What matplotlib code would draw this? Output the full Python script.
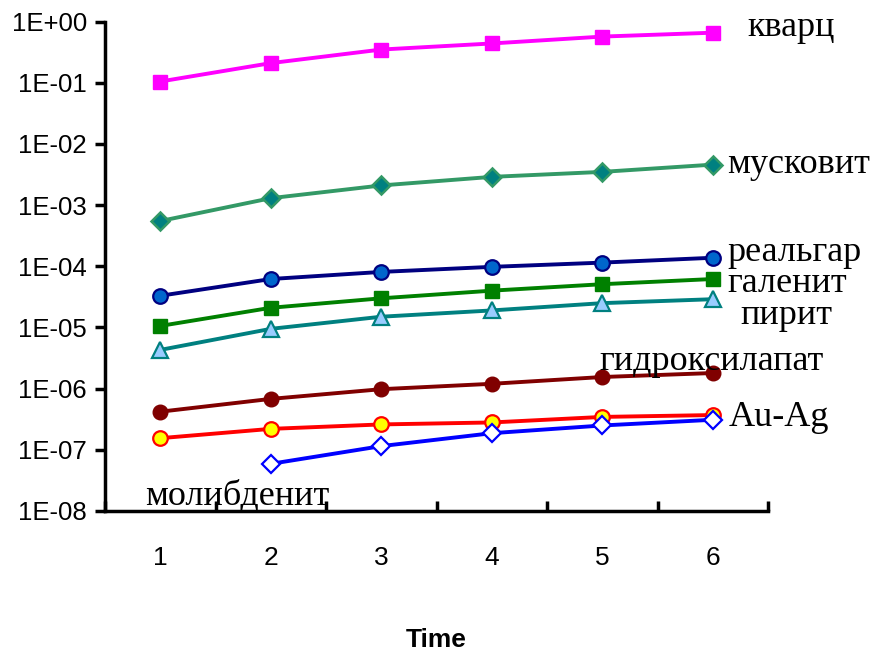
import numpy as np
import matplotlib
matplotlib.use('Agg')
import matplotlib.pyplot as plt
from matplotlib.ticker import FixedLocator, FixedFormatter

# значения по времени (1..6)
time = [1, 2, 3, 4, 5, 6]
kvarc = [0.105, 0.21, 0.35, 0.44, 0.57, 0.66]
muskovit = [5.5e-4, 1.3e-3, 2.1e-3, 2.9e-3, 3.5e-3, 4.6e-3]
realgar = [3.3e-5, 6.2e-5, 8.1e-5, 9.8e-5, 1.15e-4, 1.38e-4]
galenit = [1.06e-5, 2.1e-5, 3.0e-5, 4.0e-5, 5.1e-5, 6.2e-5]
pirit = [4.3e-6, 9.5e-6, 1.5e-5, 1.9e-5, 2.5e-5, 2.9e-5]
gidroksilapat = [4.2e-7, 6.8e-7, 9.8e-7, 1.2e-6, 1.55e-6, 1.8e-6]
au_ag = [1.55e-7, 2.2e-7, 2.6e-7, 2.8e-7, 3.45e-7, 3.7e-7]
molibdenit = [np.nan, 5.9e-8, 1.15e-7, 1.87e-7, 2.5e-7, 3.1e-7]

y_ticks = [1e-8, 1e-7, 1e-6, 1e-5, 1e-4, 1e-3, 1e-2, 1e-1, 1e0]
y_tick_labels = ['1E-08', '1E-07', '1E-06', '1E-05', '1E-04', '1E-03', '1E-02', '1E-01', '1E+00']

fig = plt.figure(figsize=(8.79, 6.52), dpi=100)
ax = fig.add_axes([0.1195, 0.2163, 0.7545, 0.7505])

lw = 2.8
ms = 10.5
ax.plot(time, kvarc, color='#FF00FF', lw=lw, marker='s', ms=ms, mfc='#FF00FF', mec='#FF00FF')
ax.plot(time, muskovit, color='#339966', lw=lw, marker='D', ms=ms - 1.5, mfc='#008080', mec='#339966', mew=1.8)
ax.plot(time, realgar, color='#000080', lw=lw, marker='o', ms=ms, mfc='#0066CC', mec='#000080', mew=1.6)
ax.plot(time, galenit, color='#008000', lw=lw, marker='s', ms=ms, mfc='#008000', mec='#008000')
ax.plot(time, pirit, color='#008080', lw=lw, marker='^', ms=ms + 1, mfc='#99CCFF', mec='#008080', mew=1.6)
ax.plot(time, gidroksilapat, color='#800000', lw=lw, marker='o', ms=ms, mfc='#800000', mec='#800000')
ax.plot(time, au_ag, color='#FF0000', lw=lw, marker='o', ms=ms, mfc='#FFFF00', mec='#FF0000', mew=1.6)
ax.plot(time, molibdenit, color='#0000FF', lw=lw, marker='D', ms=ms - 1.5, mfc='white', mec='#0000FF', mew=1.6)

ax.set_yscale('log')
ax.set_ylim(1e-8, 1)
ax.set_xlim(0.5, 6.5)

ax.yaxis.set_major_locator(FixedLocator(y_ticks))
ax.yaxis.set_major_formatter(FixedFormatter(y_tick_labels))
ax.yaxis.set_minor_locator(FixedLocator([]))
ax.tick_params(axis='y', which='major', direction='out', length=7, width=2.5,
               labelsize=18.5, pad=6)
for lab in ax.get_yticklabels():
    lab.set_family('Liberation Sans')

# деления на границах категорий, подписи в центрах
ax.xaxis.set_major_locator(FixedLocator(np.arange(0.5, 7, 1.0)))
ax.xaxis.set_major_formatter(FixedFormatter([]))
ax.xaxis.set_minor_locator(FixedLocator(time))
ax.xaxis.set_minor_formatter(FixedFormatter([str(t) for t in time]))
ax.tick_params(axis='x', which='major', direction='in', length=7, width=2.5)
ax.tick_params(axis='x', which='minor', length=0, labelsize=19, pad=25)
for lab in ax.get_xticklabels(minor=True):
    lab.set_family('Liberation Sans')

for s in ['top', 'right']:
    ax.spines[s].set_visible(False)
for s in ['left', 'bottom']:
    ax.spines[s].set_linewidth(2.5)

ax.set_xlabel('Time', fontsize=19, fontweight='bold', family='Liberation Sans', labelpad=42)

tfont = dict(family='Liberation Serif', fontsize=26, va='center', ha='left')
ax.text(6.31, 0.8, 'кварц', **tfont)
ax.text(6.13, 4.6e-3, 'мусковит', **tfont)
ax.text(6.13, 1.7e-4, 'реальгар', **tfont)
ax.text(6.13, 5.3e-5, 'галенит', **tfont)
ax.text(6.25, 1.55e-5, 'пирит', **tfont)
ax.text(4.97, 2.8e-6, 'гидроксилапат', **tfont)
ax.text(6.14, 3.4e-7, 'Au-Ag', **tfont)
ax.text(0.86, 1.7e-8, 'молибденит', **tfont)

fig.savefig('out.png', dpi=100)
